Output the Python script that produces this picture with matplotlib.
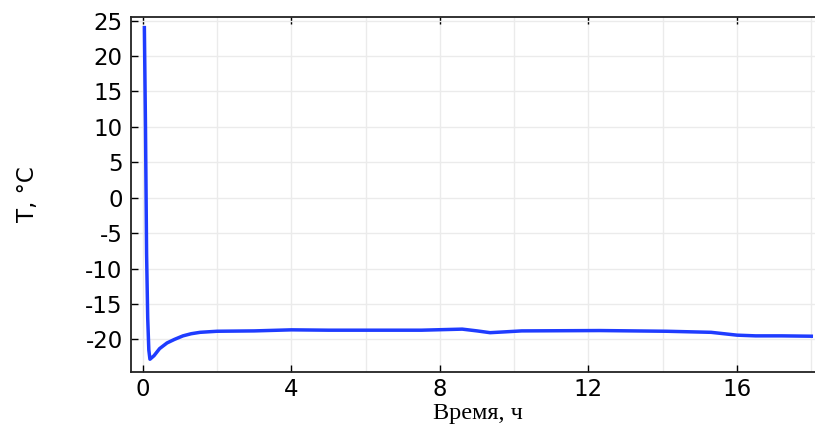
import numpy as np
import matplotlib
matplotlib.use('Agg')
import matplotlib.pyplot as plt
from matplotlib.ticker import MultipleLocator

plt.rcParams['axes.unicode_minus'] = False

# Temperature vs time
time_h = [0.04, 0.07, 0.10, 0.13, 0.16, 0.19, 0.30, 0.45, 0.65, 0.85, 1.08,
          1.30, 1.54, 2.0, 3.0, 4.0, 5.0, 6.0, 7.5, 8.6, 9.0, 9.35, 9.7,
          10.2, 12.3, 14.1, 15.3, 16.0, 16.5, 17.2, 18.0]
temp_c = [24.0, 10.0, -8.0, -17.0, -21.5, -22.8, -22.3, -21.3, -20.5, -20.0,
          -19.5, -19.2, -19.0, -18.85, -18.8, -18.65, -18.7, -18.7, -18.7,
          -18.55, -18.8, -19.05, -18.95, -18.8, -18.75, -18.85, -19.0, -19.4,
          -19.5, -19.5, -19.55]

fig = plt.figure(figsize=(8.15, 4.24), dpi=100)
ax = fig.add_axes([131 / 815, 1 - 372 / 424, 1 - 131 / 815, (372 - 17) / 424])

ax.plot(time_h, temp_c, color='#1f3cff', linewidth=2.5, solid_joinstyle='round')

ax.set_xlim(-0.32, 18.1)
ax.set_ylim(-24.6, 25.5)
ax.xaxis.set_major_locator(MultipleLocator(4))
ax.xaxis.set_minor_locator(MultipleLocator(2))
ax.yaxis.set_major_locator(MultipleLocator(5))

ax.grid(which='both', color='#ebebeb', linewidth=1.0)
ax.set_axisbelow(True)
ax.tick_params(which='major', direction='in', length=5, width=1,
               labelsize=16.5, top=True, right=False, pad=6)
ax.tick_params(axis='x', which='major', pad=4)
ax.tick_params(which='minor', length=0)

for side in ['left', 'bottom', 'top']:
    ax.spines[side].set_color('#222222')
    ax.spines[side].set_linewidth(1.3)
ax.spines['right'].set_visible(False)

# x label sits tight under the tick labels, as in the original
fig.text(478 / 815, 1 - 419 / 424, 'Время, ч', family='Liberation Serif',
         fontsize=17.5, ha='center', va='baseline')
ax.set_ylabel('T, °C', fontsize=16.5, labelpad=33)

plt.savefig('out.png', dpi=100)
